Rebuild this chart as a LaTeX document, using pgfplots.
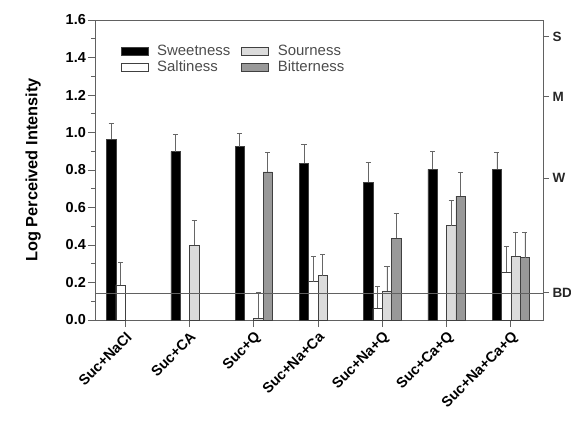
\documentclass[border=0pt]{standalone}
\usepackage{fontspec}
\setmainfont{Liberation Sans}
\usepackage{pgfplots}
\pgfplotsset{compat=1.18}
\definecolor{axc}{gray}{0.38}
\definecolor{sourc}{gray}{0.86}
\definecolor{bitc}{gray}{0.6}
\definecolor{errc}{gray}{0.4}
\pgfplotsset{
  mybar/.style={ybar, bar width=0.145, bar shift=0pt, draw=black!75, line width=0.6pt,
    legend image code/.code={\draw[##1] (0bp,-4bp) rectangle (27bp,4bp); \path (0bp,0bp) (34bp,0bp);},
    error bars/y dir=plus, error bars/y explicit,
    error bars/error bar style={errc, line width=0.7pt},
    error bars/error mark options={rotate=90, mark size=2.6pt, errc, line width=0.7pt}},
}
\begin{document}
\begin{tikzpicture}
\begin{axis}[name=ax, scale only axis, width=448bp, height=300bp,
  ymin=0, ymax=1.6, xmin=-0.47, xmax=6.5,
  xtick={0,1,2,3,4,5,6},
  xticklabels={Suc+NaCl,Suc+CA,Suc+Q,Suc+Na+Ca,Suc+Na+Q,Suc+Ca+Q,Suc+Na+Ca+Q},
  x tick label style={rotate=45, anchor=north east, font=\bfseries\fontsize{14.5}{14.5}\selectfont, inner sep=2.5pt},
  ytick={0,0.2,0.4,0.6,0.8,1.0,1.2,1.4,1.6}, minor y tick num=1,
  yticklabel style={/pgf/number format/fixed, /pgf/number format/fixed zerofill,
    /pgf/number format/precision=1, font=\bfseries\fontsize{14.5}{14.5}\selectfont, inner sep=2pt},
  /pgf/number format/assume math mode=true,
  tick align=outside, xtick pos=bottom, ytick pos=left,
  major tick length=7bp, minor tick length=4bp,
  axis line style={axc, line width=0.9pt}, tick style={axc, line width=0.8pt},
  ylabel={Log Perceived Intensity},
  ylabel style={at={(axis description cs:-0.138,0.5)}, anchor=center,
    font=\bfseries\fontsize{16.4}{16.4}\selectfont},
  legend columns=2, transpose legend,
  legend style={draw=none, fill=none, at={(0.05,0.93)}, anchor=north west,
    font=\fontsize{15}{18.5}\selectfont, text=black!70,
    /tikz/every even column/.append style={column sep=9bp},
    /tikz/every row/.append style={row sep=3bp}},
  legend cell align=left,
]
\addplot[mybar, fill=black] coordinates {
 (-0.2175,0.965) +- (0,0.085)
 (0.7825,0.898) +- (0,0.092)
 (1.7825,0.924) +- (0,0.071)
 (2.7825,0.835) +- (0,0.102)
 (3.7825,0.734) +- (0,0.105)
 (4.7825,0.804) +- (0,0.094)
 (5.7825,0.804) +- (0,0.090)
};
\addlegendentry{Sweetness}
\addplot[mybar, fill=white] coordinates {
 (-0.0725,0.187) +- (0,0.123)
 (2.9275,0.204) +- (0,0.134)
 (3.9275,0.062) +- (0,0.115)
 (5.9275,0.254) +- (0,0.137)
};
\addlegendentry{Saltiness}
\addplot[mybar, fill=sourc] coordinates {
 (1.0725,0.400) +- (0,0.133)
 (2.0725,0.010) +- (0,0.136)
 (3.0725,0.236) +- (0,0.116)
 (4.0725,0.155) +- (0,0.129)
 (5.0725,0.503) +- (0,0.137)
 (6.0725,0.341) +- (0,0.125)
};
\addlegendentry{Sourness}
\addplot[mybar, fill=bitc] coordinates {
 (2.2175,0.790) +- (0,0.104)
 (4.2175,0.436) +- (0,0.133)
 (5.2175,0.661) +- (0,0.127)
 (6.2175,0.332) +- (0,0.134)
};
\addlegendentry{Bitterness}
\addplot[sharp plot, no marks, axc, line width=0.8pt, forget plot] coordinates {(-0.47,0.142) (6.5,0.142)};
\end{axis}
\begin{axis}[scale only axis, width=448bp, height=300bp,
  ymin=0, ymax=1.6, xmin=-0.47, xmax=6.5,
  axis x line=none, axis y line*=right,
  ytick={0.146,0.756,1.19,1.51}, yticklabels={BD,W,M,S},
  yticklabel style={font=\bfseries\fontsize{13.5}{13.5}\selectfont, text=black!85},
  tick align=outside, major tick length=6bp,
  axis line style={axc, line width=0.9pt}, tick style={axc, line width=0.8pt},
]
\addplot[draw=none] coordinates {(0,0)};
\end{axis}
\pgfresetboundingbox
\path ([shift={(-95bp,-107bp)}]ax.south west) rectangle ([shift={(28bp,20bp)}]ax.north east);
\end{tikzpicture}
\end{document}
